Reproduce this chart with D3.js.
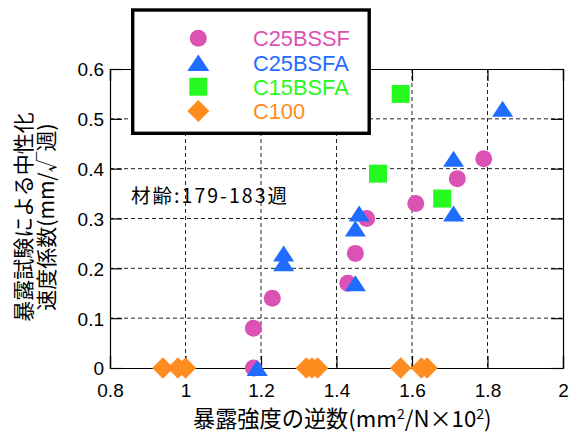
<!DOCTYPE html>
<html><head><meta charset="utf-8">
<script src="https://cdn.jsdelivr.net/npm/d3@7/dist/d3.min.js"></script>
<style>body{margin:0;background:#fff}svg{display:block}</style>
</head><body>
<svg id="c" width="575" height="434"></svg>
<script>
const seriesNames = ["C25BSSF", "C25BSFA", "C15BSFA", "C100"];
const bssfX = [1.18, 1.18, 1.23, 1.43, 1.45, 1.48, 1.61, 1.72, 1.79];
const bssfY = [0, 0.08, 0.14, 0.17, 0.23, 0.30, 0.33, 0.38, 0.42];
const bsfaX = [1.19, 1.26, 1.26, 1.45, 1.45, 1.46, 1.71, 1.71, 1.84];
const bsfaY = [0, 0.23, 0.21, 0.17, 0.28, 0.31, 0.42, 0.31, 0.52];
const c15X = [1.51, 1.57, 1.68];
const c15Y = [0.39, 0.55, 0.34];
const c100X = [0.94, 0.98, 1.00, 1.32, 1.335, 1.35, 1.57, 1.625, 1.64];
const c100Y = [0, 0, 0, 0, 0, 0, 0, 0, 0];
const xTicks = [0.8, 1, 1.2, 1.4, 1.6, 1.8, 2];
const yTicks = [0, 0.1, 0.2, 0.3, 0.4, 0.5, 0.6];
const xTickLabels = ["0.8", "1", "1.2", "1.4", "1.6", "1.8", "2"];
const yTickLabels = ["0", "0.1", "0.2", "0.3", "0.4", "0.5", "0.6"];

const colors = ["#dc52b4", "#1f6cff", "#26fa20", "#ff8c1e"];
const svg = d3.select("#c");
const L = 110, R = 563, T = 69, B = 368;
const x = d3.scaleLinear().domain([0.8, 2]).range([L, R]);
const y = d3.scaleLinear().domain([0, 0.6]).range([B, T]);

// grid
const g = svg.append("g");
g.selectAll("line.gx").data(xTicks.slice(1, -1)).enter().append("line")
  .attr("x1", d => x(d)).attr("x2", d => x(d)).attr("y1", T).attr("y2", B)
  .attr("stroke", "#222").attr("stroke-width", 1).attr("stroke-dasharray", "4,3");
g.selectAll("line.gy").data(yTicks.slice(1, -1)).enter().append("line")
  .attr("x1", L).attr("x2", R).attr("y1", d => y(d)).attr("y2", d => y(d))
  .attr("stroke", "#222").attr("stroke-width", 1).attr("stroke-dasharray", "4,3");

// axes with inward ticks
const tickLen = 12;
const axB = svg.append("g").attr("transform", `translate(0,${B})`)
  .call(d3.axisBottom(x).tickValues(xTicks).tickSize(-tickLen).tickFormat((d, i) => xTickLabels[i]));
const axL = svg.append("g").attr("transform", `translate(${L},0)`)
  .call(d3.axisLeft(y).tickValues(yTicks).tickSize(-tickLen).tickFormat((d, i) => yTickLabels[i]));
const axT = svg.append("g").attr("transform", `translate(0,${T})`)
  .call(d3.axisTop(x).tickValues(xTicks).tickSize(-tickLen).tickFormat(""));
const axR = svg.append("g").attr("transform", `translate(${R},0)`)
  .call(d3.axisRight(y).tickValues(yTicks).tickSize(-tickLen).tickFormat(""));
[axB, axL, axT, axR].forEach(a => {
  a.select(".domain").attr("stroke", "#000").attr("stroke-width", 1.2);
  a.selectAll(".tick line").attr("stroke", "#000").attr("stroke-width", 1.2);
  a.selectAll("text").attr("font-family", "Liberation Sans, Arial, sans-serif")
   .attr("font-size", 19).attr("fill", "#000");
});
axB.selectAll("text").attr("dy", null).attr("y", 29);
axL.selectAll("text").attr("x", -6).attr("dy", "0.36em");

// annotation
svg.append("text").attr("x", 131).attr("y", 203)
  .attr("font-family", "Noto Sans CJK JP, sans-serif").attr("font-size", 19.5)
  .attr("textLength", 156).attr("lengthAdjust", "spacing")
  .text("材齢:179-183週");

// symbols
function tri(cx, cy, w, h) {
  return `M${cx},${cy - h / 2}L${cx + w / 2},${cy + h / 2}L${cx - w / 2},${cy + h / 2}Z`;
}
function dia(cx, cy, r) {
  return `M${cx},${cy - r}L${cx + r},${cy}L${cx},${cy + r}L${cx - r},${cy}Z`;
}
const m = svg.append("g");
m.selectAll("circle.s1").data(d3.zip(bssfX, bssfY)).enter().append("circle")
  .attr("cx", d => x(d[0])).attr("cy", d => y(d[1])).attr("r", 8.5).attr("fill", colors[0]);
m.selectAll("path.s2").data(d3.zip(bsfaX, bsfaY)).enter().append("path")
  .attr("d", d => tri(x(d[0]), y(d[1]), 21, 16)).attr("fill", colors[1]);
m.selectAll("rect.s3").data(d3.zip(c15X, c15Y)).enter().append("rect")
  .attr("x", d => x(d[0]) - 9).attr("y", d => y(d[1]) - 9).attr("width", 18).attr("height", 18)
  .attr("fill", colors[2]);
m.selectAll("path.s4").data(d3.zip(c100X, c100Y)).enter().append("path")
  .attr("d", d => dia(x(d[0]), y(d[1]), 10.7)).attr("fill", colors[3]);

// legend
const lg = svg.append("g");
lg.append("rect").attr("x", 132.7).attr("y", 10).attr("width", 236.5).attr("height", 123.3)
  .attr("fill", "#fff").attr("stroke", "#000").attr("stroke-width", 3.4);
const rowY = [38.3, 62.7, 86.7, 111];
const mx = 198.3;
lg.append("circle").attr("cx", mx).attr("cy", rowY[0]).attr("r", 8.5).attr("fill", colors[0]);
lg.append("path").attr("d", tri(mx, rowY[1], 22, 16.5)).attr("fill", colors[1]);
lg.append("rect").attr("x", mx - 9).attr("y", rowY[2] - 9).attr("width", 18).attr("height", 18).attr("fill", colors[2]);
lg.append("path").attr("d", dia(mx, rowY[3], 11)).attr("fill", colors[3]);
lg.selectAll("text.lt").data(seriesNames).enter().append("text")
  .attr("x", 253).attr("y", (d, i) => rowY[i]).attr("dy", "0.36em")
  .attr("font-family", "Liberation Sans, Arial, sans-serif").attr("font-size", 21.8)
  .attr("fill", (d, i) => colors[i]).text(d => d);

// x title
const xt = svg.append("text").attr("x", 193).attr("y", 427)
  .attr("font-family", "Noto Sans CJK JP, sans-serif").attr("font-size", 22.2).attr("fill", "#000");
xt.append("tspan").text("暴露強度の逆数(mm");
xt.append("tspan").attr("dy", -8).attr("font-size", 14).text("2");
xt.append("tspan").attr("dy", 8).text("/N×10");
xt.append("tspan").attr("dy", -8).attr("font-size", 14).text("2");
xt.append("tspan").attr("dy", 8).text(")");

// y title
const yt = svg.append("text").attr("transform", "translate(0,217) rotate(-90)")
  .attr("text-anchor", "middle").attr("font-family", "Noto Sans CJK JP, sans-serif")
  .attr("font-size", 21).attr("fill", "#000");
yt.append("tspan").attr("x", 0).attr("y", 31).text("暴露試験による中性化");
yt.append("tspan").attr("x", 0).attr("y", 54).text("速度係数(mm/√週)");
</script>
</body></html>
